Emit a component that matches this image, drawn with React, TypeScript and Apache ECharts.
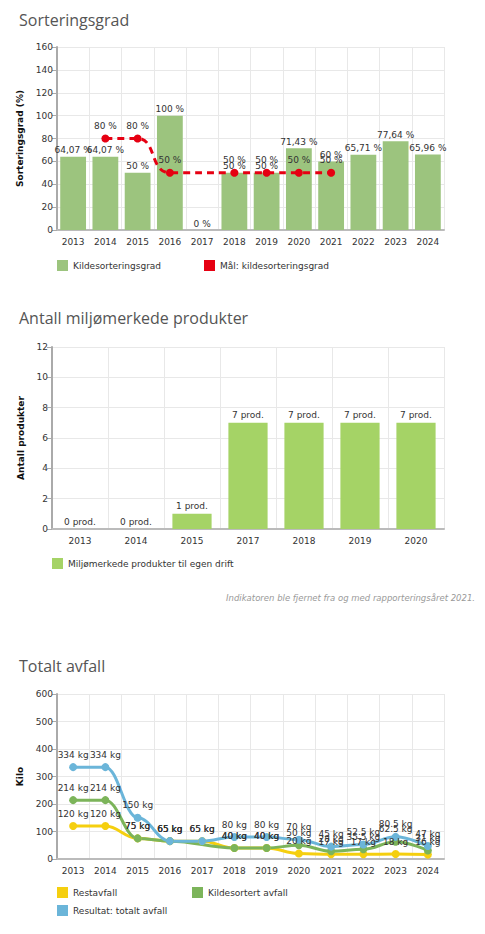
import React, { useEffect, useRef } from "react";
import * as echarts from "echarts";

const years1 = ["2013", "2014", "2015", "2016", "2017", "2018", "2019", "2020", "2021", "2022", "2023", "2024"];
const sortGrad = [64.07, 64.07, 50, 100, 0, 50, 50, 71.43, 60, 65.71, 77.64, 65.96];
const sortGoal = [null, 80, 80, 50, null, 50, 50, 50, 50, null, null, null];

const years2 = ["2013", "2014", "2015", "2017", "2018", "2019", "2020"];
const products = [0, 0, 1, 7, 7, 7, 7];

const years3 = ["2013", "2014", "2015", "2016", "2017", "2018", "2019", "2020", "2021", "2022", "2023", "2024"];
const restavfall = [120, 120, 75, 65, 65, 40, 40, 20, 17, 17, 18, 16];
const kildesortert = [214, 214, 75, 65, null, 40, 40, 50, 28, 35.5, 62.5, 31];
const totalt = [334, 334, 150, 65, 65, 80, 80, 70, 45, 52.5, 80.5, 47];

const FONT = "DejaVu Sans";
const TITLE_FONT = "Open Sans";

export default function App() {
  const ref = useRef<HTMLDivElement>(null);
  useEffect(() => {
    if (!ref.current) return;
    const chart = echarts.init(ref.current, undefined, { renderer: "svg" });
    const axisLabel = { fontFamily: FONT, fontSize: 9, color: "#333" };
    const split = { show: true, lineStyle: { color: "#e8e8e8", width: 1 } };
    const yName = (name: string, gap: number) => ({
      name,
      nameLocation: "middle" as const,
      nameGap: gap,
      nameRotate: 90,
      nameTextStyle: { fontFamily: FONT, fontSize: 9, fontWeight: "bold", color: "#111" },
    });
    const yBase = {
      axisLine: { show: true, lineStyle: { color: "#aaa", width: 2 } },
      axisTick: { show: true, length: 5, lineStyle: { color: "#aaa" } },
      axisLabel: { ...axisLabel, margin: 4 },
      splitLine: split,
    };
    const xBase = {
      axisLine: { show: true, lineStyle: { color: "#bbb", width: 2 } },
      axisTick: { show: false },
      axisLabel: { ...axisLabel, margin: 7 },
      splitLine: split,
    };
    const pct = (v: number) => `${String(v).replace(".", ",")} %`;
    const legendText = { fontFamily: FONT, fontSize: 9, color: "#333" };
    const legendBase = {
      orient: "horizontal" as const,
      icon: "rect",
      itemWidth: 11,
      itemHeight: 11,
      itemGap: 6,
      padding: 0,
      textStyle: legendText,
      selectedMode: false,
    };
    const lineLabel = {
      show: true,
      position: "top" as const,
      distance: 4,
      fontFamily: FONT,
      fontSize: 9,
      color: "#333",
    };
    const titleStyle = { fontFamily: TITLE_FONT, fontSize: 16, fontWeight: "normal", color: "#555" };

    chart.setOption({
      animation: false,
      title: [
        { text: "Sorteringsgrad", left: 14, top: 7, textStyle: titleStyle },
        { text: "Antall miljømerkede produkter", left: 14, top: 305, textStyle: titleStyle },
        { text: "Totalt avfall", left: 14, top: 653, textStyle: titleStyle },
        { text: "Indikatoren ble fjernet fra og med rapporteringsåret 2021.", right: 5, top: 588, textStyle: { fontFamily: FONT, fontSize: 8.5, fontStyle: "italic", fontWeight: "normal", color: "#999" } },
      ],
      legend: [
        { ...legendBase, left: 57, top: 260, data: ["Kildesorteringsgrad"] },
        { ...legendBase, left: 204, top: 260, data: ["Mål: kildesorteringsgrad"] },
        { ...legendBase, left: 52, top: 558, data: ["Miljømerkede produkter til egen drift"] },
        { ...legendBase, left: 57, top: 887, data: ["Restavfall"] },
        { ...legendBase, left: 192, top: 887, data: ["Kildesortert avfall"] },
        { ...legendBase, left: 57, top: 905, data: ["Resultat: totalt avfall"] },
      ],
      grid: [
        { left: 57, right: 41, top: 47, height: 183 },
        { left: 52, right: 41, top: 347, height: 182 },
        { left: 57, right: 41, top: 694, height: 165 },
      ],
      xAxis: [
        { type: "category", gridIndex: 0, data: years1, ...xBase },
        { type: "category", gridIndex: 1, data: years2, ...xBase },
        { type: "category", gridIndex: 2, data: years3, ...xBase },
      ],
      yAxis: [
        { type: "value", gridIndex: 0, min: 0, max: 160, interval: 20, ...yBase, ...yName("Sorteringsgrad (%)", 30) },
        { type: "value", gridIndex: 1, min: 0, max: 12, interval: 2, ...yBase, ...yName("Antall produkter", 25) },
        { type: "value", gridIndex: 2, min: 0, max: 600, interval: 100, ...yBase, ...yName("Kilo", 30) },
      ],
      series: [
        {
          name: "Kildesorteringsgrad",
          type: "bar",
          xAxisIndex: 0,
          yAxisIndex: 0,
          data: sortGrad,
          barCategoryGap: "20%",
          itemStyle: { color: "#9cc47e" },
          label: { show: true, position: "top", distance: 2, fontFamily: FONT, fontSize: 9, color: "#333", formatter: (p: any) => pct(p.value) },
        },
        {
          name: "Mål: kildesorteringsgrad",
          type: "line",
          xAxisIndex: 0,
          yAxisIndex: 0,
          data: sortGoal,
          connectNulls: true,
          smooth: true,
          symbol: "circle",
          symbolSize: 8,
          itemStyle: { color: "#e60012" },
          lineStyle: { color: "#e60012", width: 3, type: [7, 5] },
          label: { ...lineLabel, formatter: (p: any) => (p.value == null ? "" : pct(p.value)) },
        },
        {
          name: "Miljømerkede produkter til egen drift",
          type: "bar",
          xAxisIndex: 1,
          yAxisIndex: 1,
          data: products,
          barCategoryGap: "30%",
          itemStyle: { color: "#a5d366" },
          label: { show: true, position: "top", distance: 3, fontFamily: FONT, fontSize: 9, color: "#333", formatter: (p: any) => `${p.value} prod.` },
        },
        {
          name: "Restavfall",
          type: "line",
          xAxisIndex: 2,
          yAxisIndex: 2,
          data: restavfall,
          smooth: 0.4,
          smoothMonotone: "x",
          symbol: "circle",
          symbolSize: 8,
          itemStyle: { color: "#f5cf0f" },
          lineStyle: { color: "#f5cf0f", width: 3 },
          label: { ...lineLabel, formatter: (p: any) => `${p.value} kg` },
        },
        {
          name: "Kildesortert avfall",
          type: "line",
          xAxisIndex: 2,
          yAxisIndex: 2,
          data: kildesortert,
          connectNulls: true,
          smooth: 0.4,
          smoothMonotone: "x",
          symbol: "circle",
          symbolSize: 8,
          itemStyle: { color: "#7cb45a" },
          lineStyle: { color: "#7cb45a", width: 3 },
          label: { ...lineLabel, formatter: (p: any) => (p.value == null ? "" : `${p.value} kg`) },
        },
        {
          name: "Resultat: totalt avfall",
          type: "line",
          xAxisIndex: 2,
          yAxisIndex: 2,
          data: totalt,
          smooth: 0.4,
          smoothMonotone: "x",
          symbol: "circle",
          symbolSize: 8,
          itemStyle: { color: "#6bb5d9" },
          lineStyle: { color: "#6bb5d9", width: 3 },
          label: { ...lineLabel, formatter: (p: any) => `${p.value} kg` },
        },
      ],
    });
    return () => chart.dispose();
  }, []);
  return (
    <div
      ref={ref}
      style={{ position: "absolute", left: 0, top: 0, width: 485, height: 934, background: "#fff" }}
    />
  );
}
